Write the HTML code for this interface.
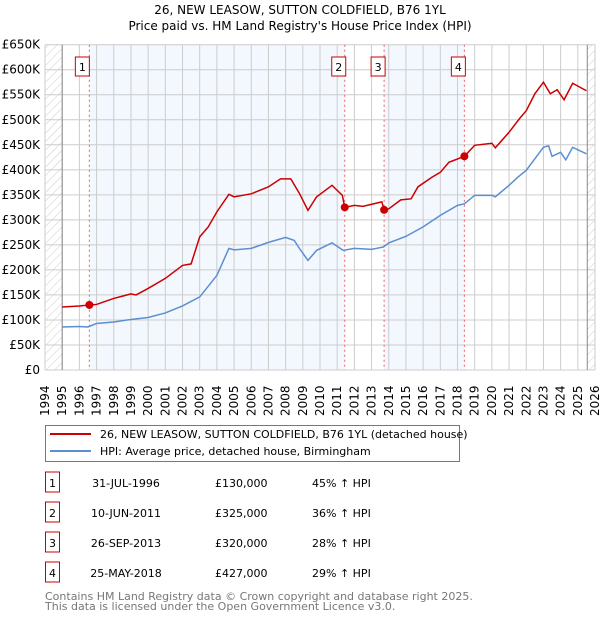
<!DOCTYPE html>
<html><head><meta charset="utf-8"><style>
body{margin:0;background:#fff;font-family:"DejaVu Sans","Liberation Sans",sans-serif}
svg text{font-family:"DejaVu Sans","Liberation Sans",sans-serif}
</style></head><body>
<svg id="c" width="600" height="620" xmlns="http://www.w3.org/2000/svg">
<defs><pattern id="hatch" patternUnits="userSpaceOnUse" width="6" height="6" patternTransform="rotate(45)"><line x1="0" y1="0" x2="0" y2="6" stroke="#ccc" stroke-width="1"/></pattern></defs>
<text x="300" y="14" text-anchor="middle" font-size="12">26, NEW LEASOW, SUTTON COLDFIELD, B76 1YL</text>
<text x="300" y="30" text-anchor="middle" font-size="12">Price paid vs. HM Land Registry's House Price Index (HPI)</text>
<g id="plot"></g>
<g>
<rect x="45.5" y="425.5" width="414" height="36" fill="#fff" stroke="#777"/>
<line x1="50" y1="434" x2="91" y2="434" stroke="#cc0000" stroke-width="2"/>
<text x="100" y="438" font-size="11">26, NEW LEASOW, SUTTON COLDFIELD, B76 1YL (detached house)</text>
<line x1="50" y1="451" x2="91" y2="451" stroke="#5b8fd0" stroke-width="2"/>
<text x="100" y="455" font-size="11">HPI: Average price, detached house, Birmingham</text>
</g>
<g id="table" font-size="11"></g>
<text x="45" y="600" font-size="11" fill="#777">Contains HM Land Registry data © Crown copyright and database right 2025.</text>
<text x="45" y="610" font-size="11" fill="#777">This data is licensed under the Open Government Licence v3.0.</text>
</svg>
<script>
const hpiYears=[1995,1996,1996.5,1997,1998,1999,2000,2001,2002,2003,2004,2004.7,2005,2006,2007,2008,2008.5,2008.8,2009.3,2009.8,2010.7,2011.35,2012,2013,2013.7,2014,2015,2016,2017,2018,2018.4,2019,2020,2020.2,2021,2021.5,2022,2022.5,2023,2023.3,2023.5,2024,2024.3,2024.7,2025.5];
const hpiValues=[86,87,86,93,96,101,105,114,128,146,189,243,240,243,255,265,259,243,219,239,254,239,243,241,246,254,267,286,309,329,332,349,349,346,369,385,399,422,445,448,427,435,420,445,432];
const redYears=[1995,1996,1996.58,1997,1998,1999,1999.3,2000,2001,2002,2002.5,2003,2003.5,2004,2004.7,2005,2006,2007,2007.7,2008.3,2008.8,2009.3,2009.8,2010.7,2011.3,2011.44,2012,2012.5,2013.6,2013.73,2014,2014.7,2015.3,2015.7,2016.5,2017,2017.5,2018.4,2019,2020,2020.2,2021,2021.6,2022,2022.5,2023,2023.4,2023.8,2024.2,2024.7,2025.5];
const redValues=[126,128,130,131,143,152,150,163,183,209,212,266,286,316,351,346,352,366,382,382,353,319,346,369,349,325,329,327,336,320,322,340,342,366,385,395,415,427,449,453,444,475,502,518,552,575,552,560,540,573,558];
const saleLabels=["1","2","3","4"];
const saleYears=[1996.58,2011.44,2013.73,2018.4];
const salePrices=[130,325,320,427];
const saleDates=["31-JUL-1996","10-JUN-2011","26-SEP-2013","25-MAY-2018"];
const salePriceText=["£130,000","£325,000","£320,000","£427,000"];
const salePct=["45% ↑ HPI","36% ↑ HPI","28% ↑ HPI","29% ↑ HPI"];
const yTicks=[0,50,100,150,200,250,300,350,400,450,500,550,600,650];
const yTickLabels=["£0","£50K","£100K","£150K","£200K","£250K","£300K","£350K","£400K","£450K","£500K","£550K","£600K","£650K"];
const xTicks=[1994,1995,1996,1997,1998,1999,2000,2001,2002,2003,2004,2005,2006,2007,2008,2009,2010,2011,2012,2013,2014,2015,2016,2017,2018,2019,2020,2021,2022,2023,2024,2025,2026];

const NS="http://www.w3.org/2000/svg";
const X0=45,X1=595,Y0=370,Y1=44.7;
const xs=y=>X0+(y-1994)/(2026-1994)*(X1-X0);
const ys=v=>Y0-v/650*(Y0-Y1);
const plot=document.getElementById('plot');
function mk(tag,attrs,parent){const e=document.createElementNS(NS,tag);for(const k in attrs)e.setAttribute(k,attrs[k]);(parent||plot).appendChild(e);return e;}
// background shading
const bands=[[saleYears[0],saleYears[1]],[saleYears[2],saleYears[3]]];
bands.forEach(b=>{const r=mk('rect',{x:xs(b[0]),y:Y1,width:xs(b[1])-xs(b[0]),height:Y0-Y1,fill:'#eef3fd',opacity:0.7});

});
const h1=mk('rect',{x:X0,y:Y1,width:xs(1995)-X0,height:Y0-Y1,fill:'url(#hatch)'});


const h2=mk('rect',{x:xs(2025.55),y:Y1,width:X1-xs(2025.55),height:Y0-Y1,fill:'url(#hatch)'});


// grid
yTicks.forEach((v,i)=>{mk('line',{x1:X0,x2:X1,y1:ys(v),y2:ys(v),stroke:'#ccc','stroke-width':1});
const t=mk('text',{x:40,y:ys(v)+4,'text-anchor':'end','font-size':12});t.textContent=yTickLabels[i];

});
xTicks.forEach(y=>{mk('line',{x1:xs(y),x2:xs(y),y1:Y1,y2:Y0,stroke:'#ccc','stroke-width':1});
const t=mk('text',{x:0,y:0,'font-size':12,transform:`translate(${xs(y)+4},${Y0+46}) rotate(-90)`});t.textContent=y;

});
mk('line',{x1:xs(1995),x2:xs(1995),y1:Y1,y2:Y0,stroke:'#888'});
mk('line',{x1:xs(2025.55),x2:xs(2025.55),y1:Y1,y2:Y0,stroke:'#888'});
// sale markers
saleYears.forEach((y,i)=>{mk('line',{x1:xs(y),x2:xs(y),y1:Y1,y2:Y0,stroke:'#f06060','stroke-dasharray':'2,3'});
const bx=xs(y)-(i==0?12:11);
const r=mk('rect',{x:bx-2,y:57,width:14,height:19,fill:'#fff',stroke:'#cc0000'});


const t=mk('text',{x:bx+5,y:71,'text-anchor':'middle','font-size':11});t.textContent=saleLabels[i];});
// lines
const hp=mk('polyline',{points:hpiYears.map((y,i)=>xs(y)+','+ys(hpiValues[i])).join(' '),fill:'none',stroke:'#5b8fd0','stroke-width':1.5});


const rp=mk('polyline',{points:redYears.map((y,i)=>xs(y)+','+ys(redValues[i])).join(' '),fill:'none',stroke:'#cc0000','stroke-width':1.5});


saleYears.forEach((y,i)=>{const c=mk('circle',{cx:xs(y),cy:ys(salePrices[i]),r:4,fill:'#cc0000'});

});
// table
const tb=document.getElementById('table');
saleLabels.forEach((l,i)=>{const cy=483+i*30;
const r=mk('rect',{x:45.5,y:cy-11,width:14,height:20,fill:'#fff',stroke:'#cc0000'},tb);


const a=mk('text',{x:52.5,y:cy+4,'text-anchor':'middle'},tb);a.textContent=l;
const d=mk('text',{x:126,y:cy+4,'text-anchor':'middle'},tb);d.textContent=saleDates[i];


const p=mk('text',{x:215,y:cy+4},tb);p.textContent=salePriceText[i];


const q=mk('text',{x:312,y:cy+4},tb);q.textContent=salePct[i];

});
</script>
</body></html>
